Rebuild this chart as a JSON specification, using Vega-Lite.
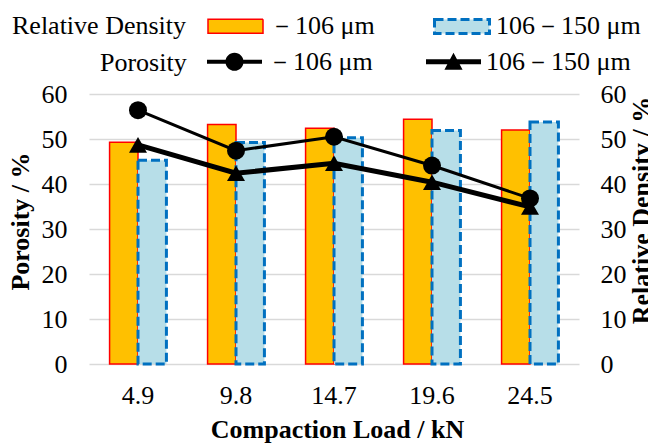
{
  "$schema": "https://vega.github.io/schema/vega-lite/v6.json",
  "width": 490,
  "height": 270,
  "autosize": "none",
  "padding": {"left": 89, "top": 94, "right": 69, "bottom": 79},
  "background": "white",
  "config": {
    "font": "Liberation Serif",
    "view": {"stroke": null},
    "axis": {
      "labelFont": "Liberation Serif", "labelFontSize": 26, "labelColor": "#000000",
      "titleFont": "Liberation Serif", "titleFontSize": 26, "titleFontWeight": "bold", "titleColor": "#000000",
      "domain": false, "ticks": false, "tickSize": 0
    },
    "legend": {
      "labelFont": "Liberation Serif", "labelFontSize": 26, "labelColor": "#000000",
      "titleFont": "Liberation Serif", "titleFontSize": 26, "titleFontWeight": "normal", "titleColor": "#000000",
      "padding": 0, "titleLimit": 400, "labelLimit": 300
    }
  },
  "datasets": {
    "rd": [
      {"load": "4.9", "cls": "－106 μm", "rd": 49.3},
      {"load": "4.9", "cls": "106－150 μm", "rd": 45.3},
      {"load": "9.8", "cls": "－106 μm", "rd": 53.2},
      {"load": "9.8", "cls": "106－150 μm", "rd": 49.2},
      {"load": "14.7", "cls": "－106 μm", "rd": 52.4},
      {"load": "14.7", "cls": "106－150 μm", "rd": 50.3},
      {"load": "19.6", "cls": "－106 μm", "rd": 54.4},
      {"load": "19.6", "cls": "106－150 μm", "rd": 51.9},
      {"load": "24.5", "cls": "－106 μm", "rd": 52.0},
      {"load": "24.5", "cls": "106－150 μm", "rd": 53.8}
    ],
    "por": [
      {"load": "4.9", "ps": "Porosity －106 μm", "por": 56.4},
      {"load": "9.8", "ps": "Porosity －106 μm", "por": 47.4},
      {"load": "14.7", "ps": "Porosity －106 μm", "por": 50.5},
      {"load": "19.6", "ps": "Porosity －106 μm", "por": 44.1},
      {"load": "24.5", "ps": "Porosity －106 μm", "por": 36.8},
      {"load": "4.9", "ps": "Porosity 106－150 μm", "por": 48.7},
      {"load": "9.8", "ps": "Porosity 106－150 μm", "por": 42.4},
      {"load": "14.7", "ps": "Porosity 106－150 μm", "por": 44.6},
      {"load": "19.6", "ps": "Porosity 106－150 μm", "por": 40.4},
      {"load": "24.5", "ps": "Porosity 106－150 μm", "por": 34.9}
    ]
  },
  "layer": [
    {
      "data": {"name": "rd"},
      "mark": {"type": "bar"},
      "encoding": {
        "x": {
          "field": "load", "type": "nominal", "sort": ["4.9", "9.8", "14.7", "19.6", "24.5"],
          "scale": {"domain": ["4.9", "9.8", "14.7", "19.6", "24.5"], "paddingInner": 0.42, "paddingOuter": 0.21},
          "axis": {"labelAngle": 0, "labelPadding": 18, "title": "Compaction Load / kN", "titleX": 248, "titleY": 73, "titleBaseline": "alphabetic", "titleAlign": "center"}
        },
        "xOffset": {"field": "cls", "type": "nominal", "sort": ["－106 μm", "106－150 μm"], "scale": {"paddingInner": 0, "paddingOuter": 0}},
        "y": {
          "field": "rd", "type": "quantitative",
          "scale": {"domain": [0, 60], "nice": false},
          "axis": {"orient": "right", "values": [0, 10, 20, 30, 40, 50, 60], "grid": false, "labelPadding": 21, "labelAlign": "left",
                   "title": "Relative Density / %", "titleAngle": -90, "titleX": 70, "titleY": 116, "titleBaseline": "alphabetic", "titleAlign": "center"}
        },
        "fill": {
          "field": "cls", "type": "nominal",
          "scale": {"domain": ["－106 μm", "106－150 μm"], "range": ["#FFC000", "#B7DEE8"]},
          "legend": {
            "orient": "none", "legendX": -77, "legendY": -97, "direction": "horizontal",
            "title": "Relative Density", "titleOrient": "left", "titlePadding": 20, "titleAnchor": "middle",
            "titleBaseline": "line-top", "titleLineHeight": 16.5,
            "symbolSize": 3025, "symbolType": "M-1,-0.255H1V0.255H-1Z", "symbolOpacity": 1, "labelOffset": 5, "columnPadding": 53
          }
        },
        "stroke": {
          "field": "cls", "type": "nominal",
          "scale": {"domain": ["－106 μm", "106－150 μm"], "range": ["#FF0000", "#0070C0"]}
        },
        "strokeDash": {
          "field": "cls", "type": "nominal",
          "scale": {"domain": ["－106 μm", "106－150 μm"], "range": [[1, 0], [9, 4]]}
        },
        "strokeWidth": {
          "field": "cls", "type": "nominal",
          "scale": {"domain": ["－106 μm", "106－150 μm"], "range": [1.5, 3]}
        }
      }
    },
    {
      "data": {"name": "por"},
      "layer": [
        {
          "transform": [{"filter": "datum.ps === 'Porosity －106 μm'"}],
          "mark": {"type": "line", "color": "black", "strokeWidth": 3},
          "encoding": {
            "x": {"field": "load", "type": "nominal", "sort": ["4.9", "9.8", "14.7", "19.6", "24.5"]},
            "y": {
              "field": "por", "type": "quantitative",
              "scale": {"domain": [0, 60], "nice": false},
              "axis": {"orient": "left", "values": [0, 10, 20, 30, 40, 50, 60], "grid": true, "gridColor": "#D9D9D9", "gridWidth": 1.5,
                       "labelPadding": 22, "title": "Porosity / %", "titleAngle": -90, "titleX": -61, "titleY": 127, "titleBaseline": "alphabetic", "titleAlign": "center"}
            }
          }
        },
        {
          "transform": [{"filter": "datum.ps === 'Porosity 106－150 μm'"}],
          "mark": {"type": "line", "color": "black", "strokeWidth": 5},
          "encoding": {
            "x": {"field": "load", "type": "nominal", "sort": ["4.9", "9.8", "14.7", "19.6", "24.5"]},
            "y": {"field": "por", "type": "quantitative"}
          }
        },
        {
          "transform": [{"filter": "datum.ps === 'Porosity －106 μm'"}],
          "mark": {"type": "point", "filled": true, "size": 324, "shape": "circle", "color": "black", "opacity": 1},
          "encoding": {
            "x": {"field": "load", "type": "nominal", "sort": ["4.9", "9.8", "14.7", "19.6", "24.5"]},
            "y": {"field": "por", "type": "quantitative"}
          }
        },
        {
          "transform": [{"filter": "datum.ps === 'Porosity 106－150 μm'"}],
          "mark": {"type": "point", "filled": true, "size": 324, "shape": "triangle-up", "color": "black", "opacity": 1},
          "encoding": {
            "x": {"field": "load", "type": "nominal", "sort": ["4.9", "9.8", "14.7", "19.6", "24.5"]},
            "y": {"field": "por", "type": "quantitative"}
          }
        },
        {
          "mark": {"type": "point", "filled": true, "size": 1, "color": "black", "opacity": 0},
          "encoding": {
            "x": {"field": "load", "type": "nominal", "sort": ["4.9", "9.8", "14.7", "19.6", "24.5"]},
            "y": {"field": "por", "type": "quantitative"},
            "shape": {
              "field": "ps", "type": "nominal",
              "scale": {"domain": ["Porosity －106 μm", "Porosity 106－150 μm"],
                        "range": ["M-1,-0.075H1V0.075H-1Z M0.33,0A0.33,0.33 0 1 1 -0.33,0A0.33,0.33 0 1 1 0.33,0Z", "M-1,-0.09H1V0.09H-1Z M0,-0.33L0.33,0.29H-0.33Z"]},
              "legend": {
                "orient": "none", "legendX": 11, "legendY": -60, "direction": "horizontal",
                "title": "Porosity", "titleOrient": "left", "titlePadding": 20, "titleAnchor": "middle",
                "titleBaseline": "line-top", "titleLineHeight": 18.5,
                "symbolSize": 3025, "symbolOpacity": 1, "symbolStrokeWidth": 0, "symbolFillColor": "black", "labelOffset": 5, "columnPadding": 53,
                "labelExpr": "replace(datum.label, 'Porosity ', '')"
              }
            }
          }
        }
      ]
    }
  ],
  "resolve": {"scale": {"y": "independent"}}
}
